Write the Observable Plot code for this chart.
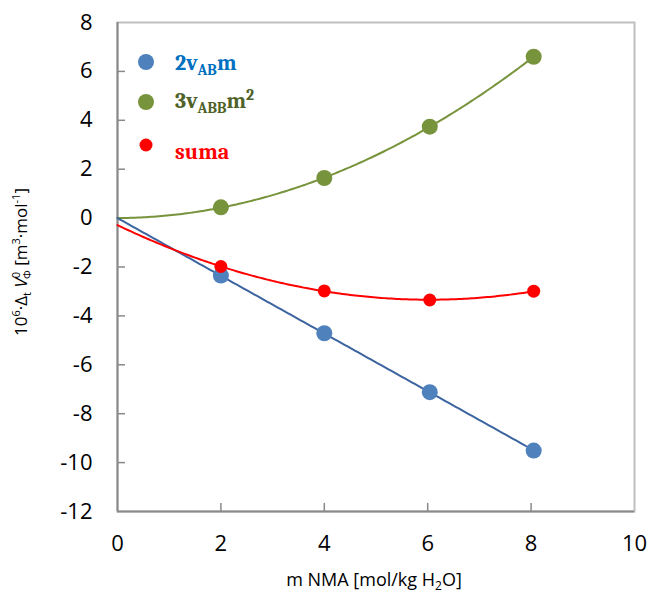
<!DOCTYPE html>
<html><head><meta charset="utf-8">
<script src="https://cdn.jsdelivr.net/npm/d3@7"></script>
<script src="https://cdn.jsdelivr.net/npm/@observablehq/plot@0.6"></script>
<style>body{margin:0;background:#fff} svg{display:block}</style>
</head><body><div id="chart"></div>
<script>
// ---- data ----
const molality = [2.0, 4.0, 6.04, 8.05];
const termAB   = [-2.35, -4.71, -7.12, -9.51];   // 2 v_AB m
const termABB  = [0.44, 1.64, 3.74, 6.60];        // 3 v_ABB m^2
const suma     = [-1.98, -2.98, -3.35, -2.99];    // suma
const xTicks = [0, 2, 4, 6, 8, 10];
const yTicks = [-12, -10, -8, -6, -4, -2, 0, 2, 4, 6, 8];

// ---- trendlines (least squares, as in the spreadsheet) ----
const sum = a => a.reduce((s, v) => s + v, 0);
function fitLinear0(x, y) { // y = b x
  const b = sum(x.map((v, i) => v * y[i])) / sum(x.map(v => v * v));
  return t => b * t;
}
function fitQuad0(x, y) { // y = b x + c x^2
  const s2 = sum(x.map(v => v ** 2)), s3 = sum(x.map(v => v ** 3)), s4 = sum(x.map(v => v ** 4));
  const t1 = sum(x.map((v, i) => v * y[i])), t2 = sum(x.map((v, i) => v * v * y[i]));
  const det = s2 * s4 - s3 * s3;
  const b = (t1 * s4 - s3 * t2) / det, c = (s2 * t2 - s3 * t1) / det;
  return t => b * t + c * t * t;
}
function fitQuad(x, y) { // y = a + b x + c x^2
  const n = x.length;
  const S = k => sum(x.map(v => v ** k));
  const T = k => sum(x.map((v, i) => v ** k * y[i]));
  const M = [[n, S(1), S(2), T(0)], [S(1), S(2), S(3), T(1)], [S(2), S(3), S(4), T(2)]];
  for (let i = 0; i < 3; i++) {
    for (let j = i + 1; j < 3; j++) {
      const f = M[j][i] / M[i][i];
      for (let k = i; k < 4; k++) M[j][k] -= f * M[i][k];
    }
  }
  const c = M[2][3] / M[2][2];
  const b = (M[1][3] - M[1][2] * c) / M[1][1];
  const a = (M[0][3] - M[0][1] * b - M[0][2] * c) / M[0][0];
  return t => a + b * t + c * t * t;
}
const fAB = fitLinear0(molality, termAB);
const fABB = fitQuad0(molality, termABB);
const fSum = fitQuad(molality, suma);
const xs = d3.range(0, d3.max(molality) + 1e-9, 0.05).concat([d3.max(molality)]);
const curve = f => xs.map(x => ({x, y: f(x)}));
const pts = ys => molality.map((x, i) => ({x, y: ys[i]}));

const axisGray = "#898989";
const chart = Plot.plot({
  width: 650, height: 594,
  marginLeft: 117, marginRight: 16, marginTop: 22, marginBottom: 83,
  style: {fontFamily: "'Open Sans', sans-serif", fontSize: "22px", background: "#fff", color: "#000"},
  x: {domain: [0, 10]},
  y: {domain: [-12, 8]},
  marks: [
    Plot.frame({stroke: "#BFBFBF", strokeWidth: 2}),
    Plot.ruleY(yTicks.slice(1, -1), {x1: 0, x2: 0.155, stroke: axisGray, strokeWidth: 1.5}),
    Plot.ruleX(xTicks.slice(1, -1), {y1: -12, y2: -11.67, stroke: axisGray, strokeWidth: 1.5}),
    Plot.ruleX([0], {stroke: axisGray, strokeWidth: 2}),
    Plot.ruleY([-12], {stroke: axisGray, strokeWidth: 2}),
    Plot.axisX({ticks: xTicks, tickSize: 0, tickPadding: 24, label: null, fontSize: 22, tickFormat: d => String(d)}),
    Plot.axisY({ticks: yTicks, tickSize: 0, tickPadding: 25, label: null, fontSize: 22, tickFormat: d => String(d)}),
    Plot.line(curve(fABB), {x: "x", y: "y", stroke: "#77933C", strokeWidth: 2}),
    Plot.line(curve(fAB), {x: "x", y: "y", stroke: "#3C64A0", strokeWidth: 2}),
    Plot.line(curve(fSum), {x: "x", y: "y", stroke: "#FF0000", strokeWidth: 2}),
    Plot.dot(pts(termAB), {x: "x", y: "y", r: 8, fill: "#4F81BD"}),
    Plot.dot(pts(termABB), {x: "x", y: "y", r: 8, fill: "#77933C"}),
    Plot.dot(pts(suma), {x: "x", y: "y", r: 6.5, fill: "#FF0000"})
  ]
});
document.getElementById("chart").append(chart);

const svg = d3.select(chart);
// legend
const lg = svg.append("g").attr("font-family", "Cambria, 'Liberation Serif', 'DejaVu Serif', serif")
  .attr("font-weight", "bold").attr("text-anchor", "start");
lg.append("circle").attr("cx", 146).attr("cy", 62).attr("r", 8).attr("fill", "#4F81BD");
lg.append("circle").attr("cx", 146).attr("cy", 102).attr("r", 8).attr("fill", "#77933C");
lg.append("circle").attr("cx", 146).attr("cy", 145).attr("r", 6.5).attr("fill", "#FF0000");
const t1 = lg.append("text").attr("x", 175).attr("y", 70).attr("fill", "#0070C0").attr("font-size", 22);
t1.append("tspan").text("2v");
t1.append("tspan").attr("font-size", 15).attr("dy", 5).text("AB");
t1.append("tspan").attr("dy", -5).text("m");
const t2 = lg.append("text").attr("x", 175).attr("y", 108).attr("fill", "#4F6228").attr("font-size", 22);
t2.append("tspan").text("3v");
t2.append("tspan").attr("font-size", 15).attr("dy", 5).text("ABB");
t2.append("tspan").attr("dy", -5).text("m");
t2.append("tspan").attr("font-size", 16).attr("dy", -8).text("2");
const t3 = lg.append("text").attr("x", 175).attr("y", 159).attr("fill", "#FF0000").attr("font-size", 22);
t3.append("tspan").text("suma");

// axis titles
const xl = svg.append("text").attr("x", 374).attr("y", 586).attr("text-anchor", "middle")
  .attr("font-family", "'Open Sans', sans-serif").attr("font-size", 18).attr("fill", "#000");
xl.append("tspan").text("m NMA [mol/kg H");
xl.append("tspan").attr("font-size", 12).attr("dy", 4).text("2");
xl.append("tspan").attr("dy", -4).text("O]");

const yl = svg.append("text").attr("transform", "translate(27,262) rotate(-90)").attr("text-anchor", "middle")
  .attr("font-family", "'Open Sans', sans-serif").attr("font-size", 17).attr("fill", "#000");
yl.append("tspan").text("10");
yl.append("tspan").attr("font-size", 11).attr("dy", -7).text("6");
yl.append("tspan").attr("dy", 7).text("·Δ");
yl.append("tspan").attr("font-size", 11).attr("dy", 4).text("t");
yl.append("tspan").attr("dy", -4).text(" ");
yl.append("tspan").attr("font-style", "italic").text("V");
yl.append("tspan").attr("font-size", 11).attr("dy", -7).text("0");
yl.append("tspan").attr("font-size", 11).attr("dx", -7).attr("dy", 11).text("Φ");
yl.append("tspan").attr("dy", -4).text(" [m");
yl.append("tspan").attr("font-size", 11).attr("dy", -7).text("3");
yl.append("tspan").attr("dy", 7).text("·mol");
yl.append("tspan").attr("font-size", 11).attr("dy", -7).text("-1");
yl.append("tspan").attr("dy", 7).text("]");
</script>
</body></html>
